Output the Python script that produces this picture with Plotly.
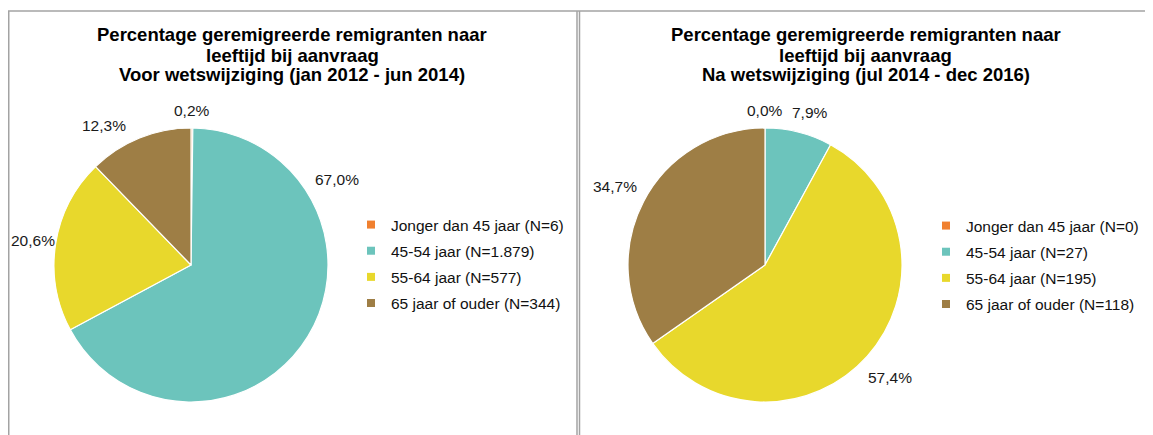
import math
import plotly.graph_objects as go

# ---- data ----
categories = ["Jonger dan 45 jaar", "45-54 jaar", "55-64 jaar", "65 jaar of ouder"]
legend_left = ["Jonger dan 45 jaar (N=6)", "45-54 jaar (N=1.879)", "55-64 jaar (N=577)", "65 jaar of ouder (N=344)"]
values_left = [6, 1879, 577, 344]
legend_right = ["Jonger dan 45 jaar (N=0)", "45-54 jaar (N=27)", "55-64 jaar (N=195)", "65 jaar of ouder (N=118)"]
values_right = [0, 27, 195, 118]
colors = ["#F0802F", "#6CC4BC", "#E8D82C", "#9E7E45"]

title_left = ["Percentage geremigreerde remigranten naar", "leeftijd bij aanvraag",
              "Voor wetswijziging (jan 2012 - jun 2014)"]
title_right = ["Percentage geremigreerde remigranten naar", "leeftijd bij aanvraag",
               "Na wetswijziging (jul 2014 - dec 2016)"]

# ---- layout geometry (pixels within the figure) ----
W, H = 1145, 427
FONT = "Liberation Sans, Arial, sans-serif"
PIE_R = 137
CY = 257
CX_LEFT, CX_RIGHT = 183, 757
LABEL_GAP = 9
LABEL_SIZE = 15.5
# Excel "best fit" moved a few labels away from the default spot
angle_override_left = {1: 59.5, 3: 328}
gap_override_left = {2: -0.5}
angle_override_right = {1: 16.5}
gap_override_right = {}


def fx(x):
    return x / W


def fy(y):
    return 1 - y / H


def fmt_pct(p):
    return f"{p * 100:.1f}".replace(".", ",") + "%"


def text_width(s, size):
    w = 0
    for ch in s:
        if ch.isdigit():
            w += 0.556
        elif ch == ",":
            w += 0.278
        elif ch == "%":
            w += 0.889
        else:
            w += 0.5
    return w * size


def label_annotations(values, cx, angle_over, gap_over):
    total = sum(values)
    anns = []
    cum = 0
    for i, v in enumerate(values):
        frac = v / total
        mid = (cum + frac / 2) * 360
        cum += frac
        ang = math.radians(angle_over.get(i, mid))
        sx, sy = math.sin(ang), math.cos(ang)
        txt = fmt_pct(frac)
        w, h = text_width(txt, LABEL_SIZE), LABEL_SIZE * 1.1
        d = PIE_R + gap_over.get(i, LABEL_GAP) + abs(sx) * w / 2 + abs(sy) * h / 2
        anns.append(dict(text=txt, x=fx(cx + d * sx), y=fy(CY - d * sy), xref="paper", yref="paper",
                         xanchor="center", yanchor="middle", showarrow=False,
                         font=dict(family=FONT, size=LABEL_SIZE, color="#1a1a1a")))
    return anns


def title_annotations(lines, cx):
    anns = []
    for k, line in enumerate(lines):
        anns.append(dict(text="<b>" + line + "</b>", x=fx(cx), y=fy(27 + 20 * k), xref="paper", yref="paper",
                         xanchor="center", yanchor="middle", showarrow=False,
                         font=dict(family=FONT, size=18.5, color="#000000")))
    return anns


fig = go.Figure()

for vals, cx in ((values_left, CX_LEFT), (values_right, CX_RIGHT)):
    fig.add_trace(go.Pie(
        labels=categories, values=vals, sort=False, direction="clockwise", rotation=0,
        marker=dict(colors=colors, line=dict(color="white", width=1.2)),
        textinfo="none", showlegend=False,
        domain=dict(x=[fx(cx - PIE_R), fx(cx + PIE_R)], y=[fy(CY + PIE_R), fy(CY - PIE_R)]),
        hoverinfo="label+value+percent",
    ))

# legend entries (one group per category so the row spacing can be set)
for legend_id, names in (("legend", legend_left), ("legend2", legend_right)):
    for name, col in zip(names, colors):
        fig.add_trace(go.Scatter(
            x=[None], y=[None], mode="markers", name=name,
            marker=dict(symbol="square", size=8, color=col),
            legend=legend_id, legendgroup=legend_id + name, showlegend=True, hoverinfo="skip",
        ))

legend_common = dict(font=dict(family=FONT, size=15.5, color="#111111"), bgcolor="rgba(0,0,0,0)",
                     tracegroupgap=3, itemclick=False, itemdoubleclick=False,
                     xanchor="left", yanchor="middle")

line_style = dict(color="#A3A3A3", width=1.5)
fig.update_layout(
    width=W, height=H,
    margin=dict(l=0, r=0, t=0, b=0),
    paper_bgcolor="white", plot_bgcolor="white",
    xaxis=dict(visible=False), yaxis=dict(visible=False),
    legend=dict(x=fx(343), y=fy(256), **legend_common),
    legend2=dict(x=fx(918), y=fy(257), **legend_common),
    annotations=title_annotations(title_left, 284) + title_annotations(title_right, 858)
    + label_annotations(values_left, CX_LEFT, angle_override_left, gap_override_left)
    + label_annotations(values_right, CX_RIGHT, angle_override_right, gap_override_right),
    shapes=[
        dict(type="line", xref="paper", yref="paper", x0=0, x1=1, y0=fy(3), y1=fy(3), line=line_style),
        dict(type="line", xref="paper", yref="paper", x0=fx(0.75), x1=fx(0.75), y0=fy(3), y1=0, line=line_style),
        dict(type="line", xref="paper", yref="paper", x0=fx(569), x1=fx(569), y0=fy(3), y1=0, line=line_style),
        dict(type="line", xref="paper", yref="paper", x0=fx(571.5), x1=fx(571.5), y0=fy(3), y1=0, line=line_style),
    ],
)

fig.write_html("out.html")
